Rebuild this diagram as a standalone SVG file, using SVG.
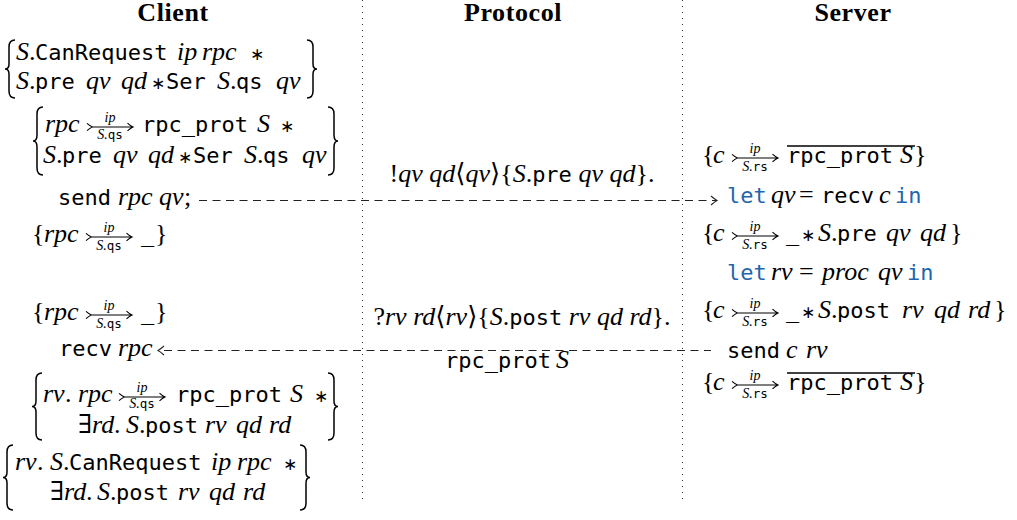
<svg xmlns="http://www.w3.org/2000/svg" width="1017" height="520" viewBox="0 0 1017 520">
<style>
text{fill:#000}
.m{font-family:"Liberation Serif","DejaVu Serif",serif;font-style:italic;font-size:26px}
.u{font-family:"Liberation Serif","DejaVu Serif",serif;font-style:normal;font-size:26px}
.st{font-family:"DejaVu Sans",sans-serif;font-style:normal;font-size:17px}
.t{font-family:"DejaVu Sans Mono",monospace;font-size:22px}
.k{fill:#1f66ad}
.li{font-family:"Liberation Serif",serif;font-style:italic;font-size:14px}
.lt{font-family:"DejaVu Sans Mono",monospace;font-size:12.5px}
.hdr{font-family:"Liberation Serif",serif;font-weight:bold;font-size:26px;text-anchor:middle;letter-spacing:0.6px}
.br{fill:none;stroke:#000;stroke-width:1.5}
.ar{fill:none;stroke:#000;stroke-width:1.1}
.ov{stroke:#000;stroke-width:1.3}
.div{stroke:#333;stroke-width:1;stroke-dasharray:1 5}
.dash{fill:none;stroke:#222;stroke-width:1.1;stroke-dasharray:8 5.5}
.head{fill:none;stroke:#222;stroke-width:1.1}
</style>
<defs>
<g id="tarr">
<path class="ar" d="M0,-3.6 Q3,-1 5.5,0 Q3,1 0,3.6 M5.5,0 H46 M40.5,-3.8 Q43.5,-1 46,0 Q43.5,1 40.5,3.8"/>
</g>
<path id="chev" class="head" d="M-6,-4.5 Q-2,-1 0,0 Q-2,1 -6,4.5"/>
</defs>

<g id="headers">
<text class="hdr" x="173" y="21">Client</text>
<text class="hdr" x="513" y="21">Protocol</text>
<text class="hdr" x="853" y="21">Server</text>
</g>

<g id="dividers">
<line class="div" x1="362.5" y1="0" x2="362.5" y2="503"/>
<line class="div" x1="682.5" y1="0" x2="682.5" y2="503"/>
</g>

<g id="connectors">
<line class="dash" x1="199" y1="200.5" x2="716" y2="200.5"/>
<use href="#chev" transform="translate(717,200.5)"/>
<line class="dash" x1="164" y1="350.5" x2="711" y2="350.5"/>
<use href="#chev" transform="translate(158,350.5) scale(-1,1)"/>
</g>

<g id="client-pre1">
<path class="br" d="M15,40 Q9,40 9,47 L9,64 Q9,69 5,69 Q9,69 9,74 L9,91 Q9,98 15,98"/>
<path class="br" d="M307,40 Q313,40 313,47 L313,64 Q313,69 317,69 Q313,69 313,74 L313,91 Q313,98 307,98"/>
<text y="60"><tspan class="m" x="16">S</tspan><tspan class="u" x="29">.</tspan><tspan class="t" x="35">CanRequest</tspan><tspan class="m" x="177">ip</tspan><tspan class="m" x="202">rpc</tspan><tspan class="st" x="250">∗</tspan></text>
<text y="89"><tspan class="m" x="16">S</tspan><tspan class="u" x="29">.</tspan><tspan class="t" x="35">pre</tspan><tspan class="m" x="86">qv</tspan><tspan class="m" x="121">qd</tspan><tspan class="st" x="151">∗</tspan><tspan class="t" x="166">Ser</tspan><tspan class="m" x="217">S</tspan><tspan class="u" x="230">.</tspan><tspan class="t" x="236">qs</tspan><tspan class="m" x="276">qv</tspan></text>
</g>

<g id="client-pre2">
<path class="br" d="M43,107 Q37,107 37,114 L37,135 Q37,141 33,141 Q37,141 37,147 L37,168 Q37,175 43,175"/>
<path class="br" d="M328,107 Q334,107 334,114 L334,135 Q334,141 338,141 Q334,141 334,147 L334,168 Q334,175 328,175"/>
<text y="132"><tspan class="m" x="45">rpc</tspan><tspan class="t" x="142">rpc_prot</tspan><tspan class="m" x="257">S</tspan><tspan class="st" x="280">∗</tspan></text>
<use href="#tarr" x="87" y="127"/>
<text class="li" x="110" y="122" text-anchor="middle">ip</text>
<text x="110" y="139" text-anchor="middle"><tspan class="li">S</tspan><tspan class="li" font-style="normal">.</tspan><tspan class="lt">qs</tspan></text>
<text y="163"><tspan class="m" x="43">S</tspan><tspan class="u" x="56">.</tspan><tspan class="t" x="62">pre</tspan><tspan class="m" x="113">qv</tspan><tspan class="m" x="148">qd</tspan><tspan class="st" x="178">∗</tspan><tspan class="t" x="193">Ser</tspan><tspan class="m" x="244">S</tspan><tspan class="u" x="257">.</tspan><tspan class="t" x="263">qs</tspan><tspan class="m" x="302">qv</tspan></text>
</g>

<g id="client-send">
<text y="205"><tspan class="t" x="58">send</tspan><tspan class="m" x="118">rpc</tspan><tspan class="m" x="159">qv</tspan><tspan class="u" x="184">;</tspan></text>
</g>

<g id="client-mid1">
<text y="242"><tspan class="u" x="32">{</tspan><tspan class="m" x="44">rpc</tspan><tspan class="t" x="141">_</tspan><tspan class="u" x="155">}</tspan></text>
<use href="#tarr" x="86" y="237"/>
<text class="li" x="109" y="232" text-anchor="middle">ip</text>
<text x="109" y="250" text-anchor="middle"><tspan class="li">S</tspan><tspan class="li" font-style="normal">.</tspan><tspan class="lt">qs</tspan></text>
</g>

<g id="client-mid2">
<text y="320"><tspan class="u" x="32">{</tspan><tspan class="m" x="44">rpc</tspan><tspan class="t" x="141">_</tspan><tspan class="u" x="155">}</tspan></text>
<use href="#tarr" x="86" y="315"/>
<text class="li" x="109" y="310" text-anchor="middle">ip</text>
<text x="109" y="328" text-anchor="middle"><tspan class="li">S</tspan><tspan class="li" font-style="normal">.</tspan><tspan class="lt">qs</tspan></text>
</g>

<g id="client-recv">
<text y="356"><tspan class="t" x="59">recv</tspan><tspan class="m" x="118">rpc</tspan></text>
</g>

<g id="client-post1">
<path class="br" d="M42,373 Q36,373 36,380 L36,401 Q36,406.5 32,406.5 Q36,406.5 36,412 L36,433 Q36,440 42,440"/>
<path class="br" d="M328,373 Q334,373 334,380 L334,401 Q334,406.5 338,406.5 Q334,406.5 334,412 L334,433 Q334,440 328,440"/>
<text y="402"><tspan class="m" x="43">rv</tspan><tspan class="u" x="65">.</tspan><tspan class="m" x="78">rpc</tspan><tspan class="t" x="176">rpc_prot</tspan><tspan class="m" x="290">S</tspan><tspan class="st" x="314">∗</tspan></text>
<use href="#tarr" x="119" y="397"/>
<text class="li" x="142" y="392" text-anchor="middle">ip</text>
<text x="142" y="407.5" text-anchor="middle"><tspan class="li">S</tspan><tspan class="li" font-style="normal">.</tspan><tspan class="lt">qs</tspan></text>
<text y="433"><tspan class="u" x="78">∃</tspan><tspan class="m" x="92">rd</tspan><tspan class="u" x="114">.</tspan><tspan class="m" x="126">S</tspan><tspan class="u" x="139">.</tspan><tspan class="t" x="145">post</tspan><tspan class="m" x="205">rv</tspan><tspan class="m" x="236">qd</tspan><tspan class="m" x="269">rd</tspan></text>
</g>

<g id="client-post2">
<path class="br" d="M13,445 Q7,445 7,452 L7,472 Q7,477.5 3,477.5 Q7,477.5 7,483 L7,503 Q7,510 13,510"/>
<path class="br" d="M300,445 Q306,445 306,452 L306,472 Q306,477.5 310,477.5 Q306,477.5 306,483 L306,503 Q306,510 300,510"/>
<text y="470"><tspan class="m" x="15">rv</tspan><tspan class="u" x="37">.</tspan><tspan class="m" x="50">S</tspan><tspan class="u" x="63">.</tspan><tspan class="t" x="69">CanRequest</tspan><tspan class="m" x="211">ip</tspan><tspan class="m" x="237">rpc</tspan><tspan class="st" x="283">∗</tspan></text>
<text y="500"><tspan class="u" x="50">∃</tspan><tspan class="m" x="64">rd</tspan><tspan class="u" x="86">.</tspan><tspan class="m" x="97">S</tspan><tspan class="u" x="110">.</tspan><tspan class="t" x="116">post</tspan><tspan class="m" x="178">rv</tspan><tspan class="m" x="209">qd</tspan><tspan class="m" x="243">rd</tspan></text>
</g>

<g id="protocol-send">
<text x="522" y="182" text-anchor="middle"><tspan class="u">!</tspan><tspan class="m">qv qd</tspan><tspan class="u">⟨</tspan><tspan class="m">qv</tspan><tspan class="u">⟩{</tspan><tspan class="m">S</tspan><tspan class="u">.</tspan><tspan class="t">pre</tspan><tspan class="m"> qv qd</tspan><tspan class="u">}.</tspan></text>
</g>
<g id="protocol-recv">
<text x="522" y="325" text-anchor="middle"><tspan class="u">?</tspan><tspan class="m">rv rd</tspan><tspan class="u">⟨</tspan><tspan class="m">rv</tspan><tspan class="u">⟩{</tspan><tspan class="m">S</tspan><tspan class="u">.</tspan><tspan class="t">post</tspan><tspan class="m"> rv qd rd</tspan><tspan class="u">}.</tspan></text>
</g>
<g id="protocol-end">
<text y="368"><tspan class="t" x="445">rpc_prot</tspan><tspan class="m" x="556">S</tspan></text>
</g>

<g id="server-pre">
<text y="163"><tspan class="u" x="702">{</tspan><tspan class="m" x="713">c</tspan><tspan class="t" x="787">rpc_prot</tspan><tspan class="m" x="900">S</tspan><tspan class="u" x="914">}</tspan></text>
<use href="#tarr" x="732" y="158"/>
<text class="li" x="755" y="153" text-anchor="middle">ip</text>
<text x="755" y="171" text-anchor="middle"><tspan class="li">S</tspan><tspan class="li" font-style="normal">.</tspan><tspan class="lt">rs</tspan></text>
<line class="ov" x1="787" y1="146" x2="915" y2="146"/>
</g>

<g id="server-recv">
<text y="203"><tspan class="t k" x="727">let</tspan><tspan class="m" x="771">qv</tspan><tspan class="u" x="799">=</tspan><tspan class="t" x="821">recv</tspan><tspan class="m" x="879">c</tspan><tspan class="t k" x="895">in</tspan></text>
</g>

<g id="server-mid1">
<text y="241"><tspan class="u" x="702">{</tspan><tspan class="m" x="713">c</tspan><tspan class="t" x="786">_</tspan><tspan class="st" x="801">∗</tspan><tspan class="m" x="818">S</tspan><tspan class="u" x="831">.</tspan><tspan class="t" x="837">pre</tspan><tspan class="m" x="886">qv</tspan><tspan class="m" x="920">qd</tspan><tspan class="u" x="950">}</tspan></text>
<use href="#tarr" x="732" y="236"/>
<text class="li" x="755" y="231" text-anchor="middle">ip</text>
<text x="755" y="249" text-anchor="middle"><tspan class="li">S</tspan><tspan class="li" font-style="normal">.</tspan><tspan class="lt">rs</tspan></text>
</g>

<g id="server-proc">
<text y="280"><tspan class="t k" x="727">let</tspan><tspan class="m" x="771">rv</tspan><tspan class="u" x="799">=</tspan><tspan class="m" x="822">proc</tspan><tspan class="m" x="878">qv</tspan><tspan class="t k" x="907">in</tspan></text>
</g>

<g id="server-mid2">
<text y="318"><tspan class="u" x="702">{</tspan><tspan class="m" x="713">c</tspan><tspan class="t" x="786">_</tspan><tspan class="st" x="801">∗</tspan><tspan class="m" x="818">S</tspan><tspan class="u" x="831">.</tspan><tspan class="t" x="837">post</tspan><tspan class="m" x="902">rv</tspan><tspan class="m" x="934">qd</tspan><tspan class="m" x="968">rd</tspan><tspan class="u" x="994">}</tspan></text>
<use href="#tarr" x="732" y="313"/>
<text class="li" x="755" y="308" text-anchor="middle">ip</text>
<text x="755" y="326" text-anchor="middle"><tspan class="li">S</tspan><tspan class="li" font-style="normal">.</tspan><tspan class="lt">rs</tspan></text>
</g>

<g id="server-send">
<text y="358"><tspan class="t" x="727">send</tspan><tspan class="m" x="786">c</tspan><tspan class="m" x="806">rv</tspan></text>
</g>

<g id="server-post">
<text y="390"><tspan class="u" x="702">{</tspan><tspan class="m" x="713">c</tspan><tspan class="t" x="787">rpc_prot</tspan><tspan class="m" x="900">S</tspan><tspan class="u" x="914">}</tspan></text>
<use href="#tarr" x="732" y="385"/>
<text class="li" x="755" y="380" text-anchor="middle">ip</text>
<text x="755" y="398" text-anchor="middle"><tspan class="li">S</tspan><tspan class="li" font-style="normal">.</tspan><tspan class="lt">rs</tspan></text>
<line class="ov" x1="787" y1="373" x2="915" y2="373"/>
</g>
</svg>
